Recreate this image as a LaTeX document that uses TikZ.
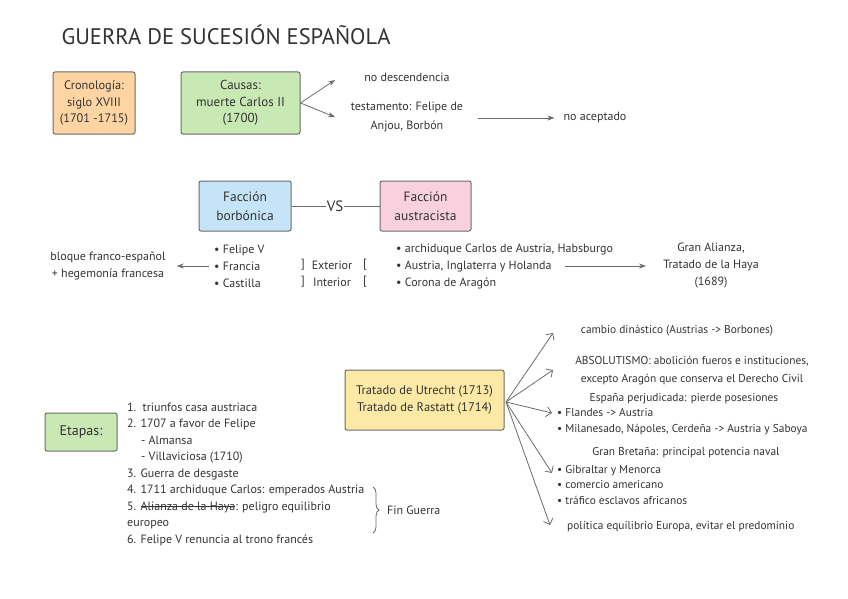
\documentclass[tikz,border=0pt]{standalone}
\usepackage{fontspec}
\setmainfont{PT Sans}
\usetikzlibrary{shapes,arrows.meta,decorations.pathreplacing,calc}
\definecolor{peach}{HTML}{FDD4A2}
\definecolor{leaf}{HTML}{C8E8B4}
\definecolor{sky}{HTML}{C6E4F7}
\definecolor{rose}{HTML}{F9D1DE}
\definecolor{straw}{HTML}{FDE9A6}
\definecolor{ink}{HTML}{333333}
\definecolor{rim}{HTML}{6B6B6B}
\newcommand{\tachado}[1]{\setbox0\hbox{#1}\rlap{\raise0.27em\hbox{\rule{\wd0}{0.5pt}}}\box0}

\begin{document}
\begin{tikzpicture}[x=1pt,y=-1pt]
				\tikzstyle{every node}=[text=ink,font=\fontsize{12}{16.5}\selectfont]
				\tikzstyle{cbox}=[rectangle,rounded corners=2pt,draw=rim,line width=1pt,align=center,inner sep=0pt,font=\fontsize{12.3}{16.5}\selectfont]
				\tikzstyle{txt}=[align=center,inner sep=1pt]
				\tikzstyle{lst}=[align=left,inner sep=1pt,anchor=west]
				\tikzstyle{conn}=[draw=rim,line width=0.8pt]
				\tikzstyle{arr}=[conn,-{Stealth[length=7pt,width=5pt]}]
				\tikzstyle{varr}=[conn,-{Straight Barb[length=5pt,width=10pt]}]
				\useasboundingbox (0,0) rectangle (848,599);
				\node[font=\fontsize{22.5}{26}\selectfont] (titulo) at (226,35) {GUERRA DE SUCESIÓN ESPAÑOLA};
				% causas
				\node[cbox,fill=peach,minimum width=82pt,minimum height=62pt] (crono) at (94,103) {Cronología:\\siglo XVIII\\(1701 -1715)};
				\node[cbox,fill=leaf,minimum width=119pt,minimum height=62pt,font=\fontsize{13}{16.5}\selectfont] (causas) at (240.5,103) {Causas:\\muerte Carlos II\\(1700)};
				\node[txt] (nodesc) at (407,77) {no descendencia};
				\node[txt,font=\fontsize{12}{19}\selectfont] (testam) at (407,117) {testamento: Felipe de\\Anjou, Borbón};
				\node[txt] (noacep) at (595,118) {no aceptado};
				\coordinate (tipA) at (335,80);
				\coordinate (tipB) at (335,117);
				\coordinate (tsEnd) at (478,118);
				\draw[arr] (causas.east) -- (tipA);
				\draw[arr] (causas.east) -- (tipB);
				\draw[arr] (tsEnd) -- ([xshift=-8pt]noacep.west);
				% facciones
				\node[cbox,fill=sky,minimum width=92pt,minimum height=50pt,font=\fontsize{13.5}{19}\selectfont] (borbon) at (245,206) {Facción\\borbónica};
				\node[txt,font=\fontsize{15}{16}\selectfont] (vs) at (335,206) {VS};
				\node[cbox,fill=rose,minimum width=91pt,minimum height=50pt,font=\fontsize{13.5}{19}\selectfont] (austra) at (425.5,206) {Facción\\austracista};
				\draw[conn] (borbon) -- (vs);
				\draw[conn] (vs) -- (austra);
				\node[lst,font=\fontsize{12}{17}\selectfont] (borblist) at (213,266) {• Felipe V\\• Francia\\• Castilla};
				\node[txt,font=\fontsize{12}{17}\selectfont] (bloque) at (108,266) {bloque franco-español\\+ hegemonía francesa};
				\draw[arr] ([xshift=-4pt]borblist.west) -- ([xshift=10pt]bloque.east);
				\node[txt] (ext) at (332,265) {Exterior};
				\node[txt] (int) at (332,282) {Interior};
				\node[txt] (brA) at (303,265) {]};
				\node[txt] (brB) at (303,282) {]};
				\node[txt] (brC) at (365,265) {[};
				\node[txt] (brD) at (365,282) {[};
				\node[lst,font=\fontsize{12}{17}\selectfont] (austlist) at (395,266) {• archiduque Carlos de Austria, Habsburgo\\• Austria, Inglaterra y Holanda\\• Corona de Aragón};
				\node[txt,font=\fontsize{12}{17}\selectfont] (granal) at (711,266) {Gran Alianza,\\Tratado de la Haya\\(1689)};
				\coordinate (alEnd) at (565,266);
				\draw[arr] (alEnd) -- ([xshift=-16pt]granal.west);
				% etapas
				\node[cbox,fill=leaf,minimum width=72pt,minimum height=38pt,font=\fontsize{14}{16}\selectfont] (etapas) at (81,432) {Etapas:};
				\node[lst] (etList) at (126,474) {1.\ \ triunfos casa austriaca\\2. 1707 a favor de Felipe\\\hspace{14pt}- Almansa\\\hspace{14pt}- Villaviciosa (1710)\\3. Guerra de desgaste\\4. 1711 archiduque Carlos: emperados Austria\\5. \tachado{Alianza de la Haya}: peligro equilibrio\\europeo\\6. Felipe V renuncia al trono francés};
				\coordinate (brTop) at (373,487);
				\coordinate (brBot) at (373,533);
				\draw[conn,decorate,decoration={brace,amplitude=6pt}] (brTop) -- (brBot);
				\node[lst] (fin) at (386,510) {Fin Guerra};
				% tratados
				\node[cbox,fill=straw,minimum width=159pt,minimum height=60pt,font=\fontsize{12.5}{17}\selectfont] (tratado) at (424.5,400) {Tratado de Utrecht (1713)\\Tratado de Rastatt (1714)};
				\coordinate (tOrig) at (506,402);
				\coordinate (t1) at (553,333);
				\coordinate (t2) at (553,370);
				\coordinate (t3) at (552,413);
				\coordinate (t4) at (552,473);
				\coordinate (t5) at (550,525);
				\foreach \t in {t1,t2,t3,t4,t5}
					\draw[varr] (tOrig) -- (\t);
				\node[txt,font=\fontsize{11.4}{16}\selectfont] (dinast) at (677,331) {cambio dinástico (Austrias -> Borbones)};
				\node[txt,font=\fontsize{11.4}{18}\selectfont] (absol) at (692,371) {ABSOLUTISMO: abolición fueros e instituciones,\\excepto Aragón que conserva el Derecho Civil};
				\node[txt,font=\fontsize{11.4}{16}\selectfont] (espana) at (684,399) {España perjudicada: pierde posesiones};
				\node[lst,font=\fontsize{11.4}{16}\selectfont] (espList) at (556,422) {• Flandes -> Austria\\• Milanesado, Nápoles, Cerdeña -> Austria y Saboya};
				\node[txt,font=\fontsize{11.4}{16}\selectfont] (gbret) at (686,453) {Gran Bretaña: principal potencia naval};
				\node[lst,font=\fontsize{11.4}{15.5}\selectfont] (gbList) at (556,485) {• Gibraltar y Menorca\\• comercio americano\\• tráfico esclavos africanos};
				\node[lst,font=\fontsize{11.4}{16}\selectfont] (equil) at (566,527) {política equilibrio Europa, evitar el predominio};
			\end{tikzpicture}
\end{document}
